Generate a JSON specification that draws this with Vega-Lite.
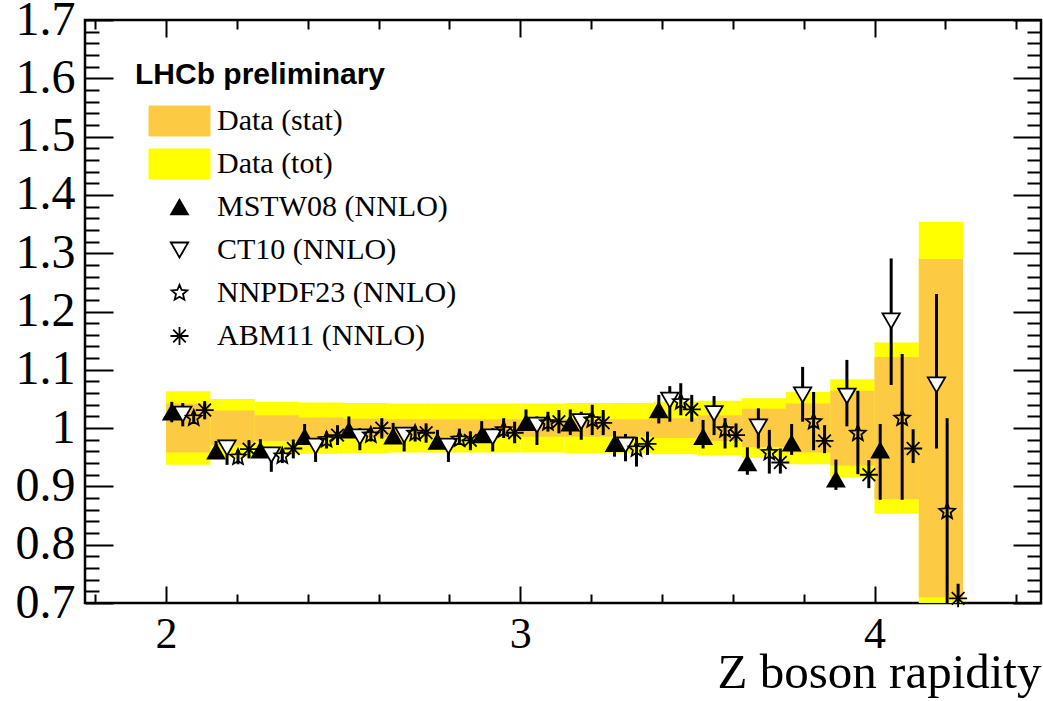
{
  "$schema": "https://vega.github.io/schema/vega-lite/v6.json",
  "width": 956,
  "height": 583,
  "autosize": {"type": "none"},
  "padding": {"left": 85, "top": 20, "right": 2, "bottom": 98},
  "background": "white",
  "view": {"stroke": "black", "strokeWidth": 2.5},
  "config": {
    "axis": {"domain": false, "grid": false, "labelFont": "Liberation Serif", "labelFontSize": 44, "labelColor": "black", "tickColor": "black", "tickWidth": 2},
    "legend": {
      "orient": "none", "legendX": 50, "legendY": 40, "direction": "vertical", "gridAlign": "all",
      "titleFont": "Liberation Sans", "titleFontWeight": "bold", "titleFontSize": 30, "titleColor": "black", "titlePadding": 16, "titleLimit": 600,
      "labelFont": "Liberation Serif", "labelFontSize": 30, "labelColor": "black", "labelOffset": 22.5, "symbolOffset": 29.5,
      "rowPadding": 3, "symbolStrokeWidth": 1.8, "labelLimit": 400, "padding": 0
    }
  },
  "datasets": {
    "bands": [
      {"series": "Data (tot)", "x0": 2.0, "x1": 2.125, "lo": 0.937, "hi": 1.063},
      {"series": "Data (tot)", "x0": 2.125, "x1": 2.25, "lo": 0.950, "hi": 1.050},
      {"series": "Data (tot)", "x0": 2.25, "x1": 2.375, "lo": 0.955, "hi": 1.045},
      {"series": "Data (tot)", "x0": 2.375, "x1": 2.5, "lo": 0.956, "hi": 1.044},
      {"series": "Data (tot)", "x0": 2.5, "x1": 2.625, "lo": 0.957, "hi": 1.043},
      {"series": "Data (tot)", "x0": 2.625, "x1": 2.75, "lo": 0.958, "hi": 1.042},
      {"series": "Data (tot)", "x0": 2.75, "x1": 2.875, "lo": 0.958, "hi": 1.042},
      {"series": "Data (tot)", "x0": 2.875, "x1": 3.0, "lo": 0.958, "hi": 1.042},
      {"series": "Data (tot)", "x0": 3.0, "x1": 3.125, "lo": 0.958, "hi": 1.042},
      {"series": "Data (tot)", "x0": 3.125, "x1": 3.25, "lo": 0.957, "hi": 1.043},
      {"series": "Data (tot)", "x0": 3.25, "x1": 3.375, "lo": 0.957, "hi": 1.043},
      {"series": "Data (tot)", "x0": 3.375, "x1": 3.5, "lo": 0.955, "hi": 1.045},
      {"series": "Data (tot)", "x0": 3.5, "x1": 3.625, "lo": 0.953, "hi": 1.047},
      {"series": "Data (tot)", "x0": 3.625, "x1": 3.75, "lo": 0.949, "hi": 1.051},
      {"series": "Data (tot)", "x0": 3.75, "x1": 3.875, "lo": 0.938, "hi": 1.062},
      {"series": "Data (tot)", "x0": 3.875, "x1": 4.0, "lo": 0.916, "hi": 1.084},
      {"series": "Data (tot)", "x0": 4.0, "x1": 4.125, "lo": 0.853, "hi": 1.147},
      {"series": "Data (tot)", "x0": 4.125, "x1": 4.25, "lo": 0.646, "hi": 1.354},
      {"series": "Data (stat)", "x0": 2.0, "x1": 2.125, "lo": 0.958, "hi": 1.042},
      {"series": "Data (stat)", "x0": 2.125, "x1": 2.25, "lo": 0.970, "hi": 1.030},
      {"series": "Data (stat)", "x0": 2.25, "x1": 2.375, "lo": 0.978, "hi": 1.022},
      {"series": "Data (stat)", "x0": 2.375, "x1": 2.5, "lo": 0.982, "hi": 1.018},
      {"series": "Data (stat)", "x0": 2.5, "x1": 2.625, "lo": 0.984, "hi": 1.016},
      {"series": "Data (stat)", "x0": 2.625, "x1": 2.75, "lo": 0.985, "hi": 1.015},
      {"series": "Data (stat)", "x0": 2.75, "x1": 2.875, "lo": 0.985, "hi": 1.015},
      {"series": "Data (stat)", "x0": 2.875, "x1": 3.0, "lo": 0.985, "hi": 1.015},
      {"series": "Data (stat)", "x0": 3.0, "x1": 3.125, "lo": 0.985, "hi": 1.015},
      {"series": "Data (stat)", "x0": 3.125, "x1": 3.25, "lo": 0.985, "hi": 1.015},
      {"series": "Data (stat)", "x0": 3.25, "x1": 3.375, "lo": 0.985, "hi": 1.015},
      {"series": "Data (stat)", "x0": 3.375, "x1": 3.5, "lo": 0.983, "hi": 1.017},
      {"series": "Data (stat)", "x0": 3.5, "x1": 3.625, "lo": 0.978, "hi": 1.022},
      {"series": "Data (stat)", "x0": 3.625, "x1": 3.75, "lo": 0.967, "hi": 1.033},
      {"series": "Data (stat)", "x0": 3.75, "x1": 3.875, "lo": 0.958, "hi": 1.042},
      {"series": "Data (stat)", "x0": 3.875, "x1": 4.0, "lo": 0.936, "hi": 1.064},
      {"series": "Data (stat)", "x0": 4.0, "x1": 4.125, "lo": 0.878, "hi": 1.122},
      {"series": "Data (stat)", "x0": 4.125, "x1": 4.25, "lo": 0.710, "hi": 1.290}
    ],
    "points": [
      {"series": "MSTW08 (NNLO)", "x": 2.016, "v": 1.027, "lo": 1.010, "hi": 1.045},
      {"series": "CT10 (NNLO)", "x": 2.047, "v": 1.024, "lo": 1.003, "hi": 1.043},
      {"series": "NNPDF23 (NNLO)", "x": 2.078, "v": 1.017, "lo": 1.007, "hi": 1.026},
      {"series": "ABM11 (NNLO)", "x": 2.109, "v": 1.031, "lo": 1.015, "hi": 1.046},
      {"series": "MSTW08 (NNLO)", "x": 2.141, "v": 0.960, "lo": 0.948, "hi": 0.978},
      {"series": "CT10 (NNLO)", "x": 2.172, "v": 0.966, "lo": 0.937, "hi": 0.977},
      {"series": "NNPDF23 (NNLO)", "x": 2.203, "v": 0.950, "lo": 0.938, "hi": 0.962},
      {"series": "ABM11 (NNLO)", "x": 2.234, "v": 0.964, "lo": 0.948, "hi": 0.979},
      {"series": "MSTW08 (NNLO)", "x": 2.266, "v": 0.962, "lo": 0.950, "hi": 0.981},
      {"series": "CT10 (NNLO)", "x": 2.297, "v": 0.954, "lo": 0.925, "hi": 0.964},
      {"series": "NNPDF23 (NNLO)", "x": 2.328, "v": 0.952, "lo": 0.940, "hi": 0.961},
      {"series": "ABM11 (NNLO)", "x": 2.359, "v": 0.965, "lo": 0.948, "hi": 0.980},
      {"series": "MSTW08 (NNLO)", "x": 2.391, "v": 0.985, "lo": 0.974, "hi": 1.007},
      {"series": "CT10 (NNLO)", "x": 2.422, "v": 0.969, "lo": 0.942, "hi": 0.979},
      {"series": "NNPDF23 (NNLO)", "x": 2.453, "v": 0.980, "lo": 0.965, "hi": 0.994},
      {"series": "ABM11 (NNLO)", "x": 2.484, "v": 0.988, "lo": 0.971, "hi": 1.005},
      {"series": "MSTW08 (NNLO)", "x": 2.516, "v": 0.996, "lo": 0.985, "hi": 1.020},
      {"series": "CT10 (NNLO)", "x": 2.547, "v": 0.985, "lo": 0.962, "hi": 1.000},
      {"series": "NNPDF23 (NNLO)", "x": 2.578, "v": 0.988, "lo": 0.977, "hi": 1.000},
      {"series": "ABM11 (NNLO)", "x": 2.609, "v": 1.000, "lo": 0.982, "hi": 1.017},
      {"series": "MSTW08 (NNLO)", "x": 2.641, "v": 0.986, "lo": 0.977, "hi": 1.009},
      {"series": "CT10 (NNLO)", "x": 2.672, "v": 0.988, "lo": 0.960, "hi": 1.000},
      {"series": "NNPDF23 (NNLO)", "x": 2.703, "v": 0.991, "lo": 0.977, "hi": 1.003},
      {"series": "ABM11 (NNLO)", "x": 2.734, "v": 0.992, "lo": 0.975, "hi": 1.008},
      {"series": "MSTW08 (NNLO)", "x": 2.766, "v": 0.977, "lo": 0.965, "hi": 0.997},
      {"series": "CT10 (NNLO)", "x": 2.797, "v": 0.969, "lo": 0.942, "hi": 0.982},
      {"series": "NNPDF23 (NNLO)", "x": 2.828, "v": 0.981, "lo": 0.971, "hi": 0.999},
      {"series": "ABM11 (NNLO)", "x": 2.859, "v": 0.979, "lo": 0.962, "hi": 0.994},
      {"series": "MSTW08 (NNLO)", "x": 2.891, "v": 0.988, "lo": 0.977, "hi": 1.012},
      {"series": "CT10 (NNLO)", "x": 2.922, "v": 0.985, "lo": 0.960, "hi": 1.000},
      {"series": "NNPDF23 (NNLO)", "x": 2.953, "v": 0.997, "lo": 0.983, "hi": 1.017},
      {"series": "ABM11 (NNLO)", "x": 2.984, "v": 0.992, "lo": 0.974, "hi": 1.011},
      {"series": "MSTW08 (NNLO)", "x": 3.016, "v": 1.009, "lo": 0.997, "hi": 1.032},
      {"series": "CT10 (NNLO)", "x": 3.047, "v": 1.005, "lo": 0.971, "hi": 1.020},
      {"series": "NNPDF23 (NNLO)", "x": 3.078, "v": 1.009, "lo": 0.994, "hi": 1.028},
      {"series": "ABM11 (NNLO)", "x": 3.109, "v": 1.011, "lo": 0.991, "hi": 1.031},
      {"series": "MSTW08 (NNLO)", "x": 3.141, "v": 1.008, "lo": 0.988, "hi": 1.032},
      {"series": "CT10 (NNLO)", "x": 3.172, "v": 1.011, "lo": 0.980, "hi": 1.028},
      {"series": "NNPDF23 (NNLO)", "x": 3.203, "v": 1.014, "lo": 0.988, "hi": 1.040},
      {"series": "ABM11 (NNLO)", "x": 3.234, "v": 1.009, "lo": 0.988, "hi": 1.031},
      {"series": "MSTW08 (NNLO)", "x": 3.266, "v": 0.973, "lo": 0.951, "hi": 0.995},
      {"series": "CT10 (NNLO)", "x": 3.297, "v": 0.971, "lo": 0.943, "hi": 0.990},
      {"series": "NNPDF23 (NNLO)", "x": 3.328, "v": 0.964, "lo": 0.934, "hi": 0.985},
      {"series": "ABM11 (NNLO)", "x": 3.359, "v": 0.973, "lo": 0.954, "hi": 0.994},
      {"series": "MSTW08 (NNLO)", "x": 3.391, "v": 1.031, "lo": 1.008, "hi": 1.057},
      {"series": "CT10 (NNLO)", "x": 3.422, "v": 1.048, "lo": 1.011, "hi": 1.072},
      {"series": "NNPDF23 (NNLO)", "x": 3.453, "v": 1.045, "lo": 1.022, "hi": 1.077},
      {"series": "ABM11 (NNLO)", "x": 3.484, "v": 1.032, "lo": 1.011, "hi": 1.057},
      {"series": "MSTW08 (NNLO)", "x": 3.516, "v": 0.985, "lo": 0.965, "hi": 1.014},
      {"series": "CT10 (NNLO)", "x": 3.547, "v": 1.025, "lo": 0.988, "hi": 1.055},
      {"series": "NNPDF23 (NNLO)", "x": 3.578, "v": 0.997, "lo": 0.965, "hi": 1.017},
      {"series": "ABM11 (NNLO)", "x": 3.609, "v": 0.988, "lo": 0.967, "hi": 1.008},
      {"series": "MSTW08 (NNLO)", "x": 3.641, "v": 0.940, "lo": 0.920, "hi": 0.967},
      {"series": "CT10 (NNLO)", "x": 3.672, "v": 1.002, "lo": 0.965, "hi": 1.034},
      {"series": "NNPDF23 (NNLO)", "x": 3.703, "v": 0.958, "lo": 0.922, "hi": 0.997},
      {"series": "ABM11 (NNLO)", "x": 3.734, "v": 0.941, "lo": 0.922, "hi": 0.965},
      {"series": "MSTW08 (NNLO)", "x": 3.766, "v": 0.974, "lo": 0.954, "hi": 1.007},
      {"series": "CT10 (NNLO)", "x": 3.797, "v": 1.057, "lo": 1.011, "hi": 1.105},
      {"series": "NNPDF23 (NNLO)", "x": 3.828, "v": 1.011, "lo": 0.962, "hi": 1.062},
      {"series": "ABM11 (NNLO)", "x": 3.859, "v": 0.978, "lo": 0.957, "hi": 1.005},
      {"series": "MSTW08 (NNLO)", "x": 3.891, "v": 0.912, "lo": 0.894, "hi": 0.946},
      {"series": "CT10 (NNLO)", "x": 3.922, "v": 1.055, "lo": 1.003, "hi": 1.117},
      {"series": "NNPDF23 (NNLO)", "x": 3.953, "v": 0.991, "lo": 0.921, "hi": 1.064},
      {"series": "ABM11 (NNLO)", "x": 3.984, "v": 0.920, "lo": 0.897, "hi": 0.945},
      {"series": "MSTW08 (NNLO)", "x": 4.016, "v": 0.962, "lo": 0.877, "hi": 1.007},
      {"series": "CT10 (NNLO)", "x": 4.047, "v": 1.184, "lo": 1.074, "hi": 1.291},
      {"series": "NNPDF23 (NNLO)", "x": 4.078, "v": 1.017, "lo": 0.877, "hi": 1.127},
      {"series": "ABM11 (NNLO)", "x": 4.109, "v": 0.965, "lo": 0.940, "hi": 0.998},
      {"series": "CT10 (NNLO)", "x": 4.175, "v": 1.074, "lo": 0.965, "hi": 1.230},
      {"series": "NNPDF23 (NNLO)", "x": 4.205, "v": 0.857, "lo": 0.690, "hi": 1.017},
      {"series": "ABM11 (NNLO)", "x": 4.236, "v": 0.708, "lo": 0.690, "hi": 0.733}
    ]
  },
  "layer": [
    {
      "data": {"name": "bands"},
      "mark": {"type": "rect", "clip": true},
      "encoding": {
        "x": {
          "field": "x0", "type": "quantitative",
          "scale": {"domain": [1.771, 4.47], "nice": false, "zero": false},
          "axis": {
            "orient": "bottom",
            "values": [1.8, 2, 2.2, 2.4, 2.6, 2.8, 3, 3.2, 3.4, 3.6, 3.8, 4, 4.2, 4.4],
            "tickSize": {"condition": {"test": "abs(datum.value - round(datum.value)) < 0.001", "value": -17}, "value": -9},
            "labelExpr": "abs(datum.value - round(datum.value)) < 0.001 ? format(datum.value, 'd') : ''",
            "labelPadding": 26,
            "title": "Z boson rapidity", "titleAnchor": "end", "titleFont": "Liberation Serif", "titleFontSize": 49, "titleFontWeight": "normal", "titleColor": "black", "titlePadding": -8
          }
        },
        "x2": {"field": "x1"},
        "y": {
          "field": "lo", "type": "quantitative",
          "scale": {"domain": [0.7, 1.7], "nice": false, "zero": false},
          "axis": {
            "orient": "left",
            "values": [0.7, 0.72, 0.74, 0.76, 0.78, 0.8, 0.82, 0.84, 0.86, 0.88, 0.9, 0.92, 0.94, 0.96, 0.98, 1, 1.02, 1.04, 1.06, 1.08, 1.1, 1.12, 1.14, 1.16, 1.18, 1.2, 1.22, 1.24, 1.26, 1.28, 1.3, 1.32, 1.34, 1.36, 1.38, 1.4, 1.42, 1.44, 1.46, 1.48, 1.5, 1.52, 1.54, 1.56, 1.58, 1.6, 1.62, 1.64, 1.66, 1.68, 1.7],
            "tickSize": {"condition": {"test": "abs(datum.value * 10 - round(datum.value * 10)) < 0.001", "value": -28}, "value": -14},
            "labelExpr": "abs(datum.value * 10 - round(datum.value * 10)) < 0.001 ? format(datum.value, '~g') : ''",
            "labelFontSize": 48,
            "labelPadding": 38,
            "title": null
          }
        },
        "y2": {"field": "hi"},
        "fill": {
          "field": "series", "type": "nominal", "title": "LHCb preliminary",
          "scale": {
            "domain": ["Data (stat)", "Data (tot)", "MSTW08 (NNLO)", "CT10 (NNLO)", "NNPDF23 (NNLO)", "ABM11 (NNLO)"],
            "range": ["#fdcb43", "#ffff00", "black", "white", "transparent", "transparent"]
          }
        }
      }
    },
    {
      "data": {"name": "points"},
      "mark": {"type": "rule", "clip": true, "color": "black", "strokeWidth": 3},
      "encoding": {
        "x": {"field": "x", "type": "quantitative", "axis": null},
        "y": {"field": "lo", "type": "quantitative", "axis": null},
        "y2": {"field": "hi"}
      }
    },
    {
      "data": {"name": "points"},
      "mark": {"type": "point", "filled": true, "opacity": 1, "strokeWidth": 1.8},
      "encoding": {
        "x": {"field": "x", "type": "quantitative", "axis": null},
        "y": {"field": "v", "type": "quantitative", "axis": null},
        "fill": {"field": "series", "type": "nominal", "title": "LHCb preliminary"},
        "shape": {
          "field": "series", "type": "nominal", "title": "LHCb preliminary",
          "scale": {
            "domain": ["Data (stat)", "Data (tot)", "MSTW08 (NNLO)", "CT10 (NNLO)", "NNPDF23 (NNLO)", "ABM11 (NNLO)"],
            "range": [
              "M-2.38,-1.24H2.38Q2.48,-1.24,2.48,-1.14V1.14Q2.48,1.24,2.38,1.24H-2.38Q-2.48,1.24,-2.48,1.14V-1.14Q-2.48,-1.24,-2.38,-1.24Z",
              "M-2.38,-1.24H2.38Q2.48,-1.24,2.48,-1.14V1.14Q2.48,1.24,2.38,1.24H-2.38Q-2.48,1.24,-2.48,1.14V-1.14Q-2.48,-1.24,-2.38,-1.24Z",
              "triangle-up",
              "triangle-down",
              "M0,-1L0.265,-0.364L0.951,-0.309L0.428,0.139L0.588,0.809L0,0.45L-0.588,0.809L-0.428,0.139L-0.951,-0.309L-0.265,-0.364Z",
              "M0,-1V1M-1,0H1M-0.7,-0.7L0.7,0.7M-0.7,0.7L0.7,-0.7"
            ]
          }
        },
        "stroke": {
          "field": "series", "type": "nominal", "title": "LHCb preliminary",
          "scale": {
            "domain": ["Data (stat)", "Data (tot)", "MSTW08 (NNLO)", "CT10 (NNLO)", "NNPDF23 (NNLO)", "ABM11 (NNLO)"],
            "range": ["transparent", "transparent", "black", "black", "black", "black"]
          }
        },
        "size": {
          "field": "series", "type": "nominal", "title": "LHCb preliminary",
          "scale": {
            "type": "ordinal",
            "domain": ["Data (stat)", "Data (tot)", "MSTW08 (NNLO)", "CT10 (NNLO)", "NNPDF23 (NNLO)", "ABM11 (NNLO)"],
            "range": [625, 625, 280, 300, 270, 324]
          }
        }
      }
    },
    {
      "data": {"name": "points"},
      "mark": {"type": "point", "opacity": 0},
      "encoding": {
        "x": {
          "field": "x", "type": "quantitative",
          "axis": {
            "orient": "top", "labels": false, "title": null,
            "values": [1.8, 2, 2.2, 2.4, 2.6, 2.8, 3, 3.2, 3.4, 3.6, 3.8, 4, 4.2, 4.4],
            "tickSize": {"condition": {"test": "abs(datum.value - round(datum.value)) < 0.001", "value": -17}, "value": -9}
          }
        },
        "y": {
          "field": "v", "type": "quantitative",
          "axis": {
            "orient": "right", "labels": false, "title": null,
            "values": [0.7, 0.72, 0.74, 0.76, 0.78, 0.8, 0.82, 0.84, 0.86, 0.88, 0.9, 0.92, 0.94, 0.96, 0.98, 1, 1.02, 1.04, 1.06, 1.08, 1.1, 1.12, 1.14, 1.16, 1.18, 1.2, 1.22, 1.24, 1.26, 1.28, 1.3, 1.32, 1.34, 1.36, 1.38, 1.4, 1.42, 1.44, 1.46, 1.48, 1.5, 1.52, 1.54, 1.56, 1.58, 1.6, 1.62, 1.64, 1.66, 1.68, 1.7],
            "tickSize": {"condition": {"test": "abs(datum.value * 10 - round(datum.value * 10)) < 0.001", "value": -28}, "value": -14}
          }
        }
      }
    }
  ],
  "resolve": {"axis": {"x": "independent", "y": "independent"}}
}
